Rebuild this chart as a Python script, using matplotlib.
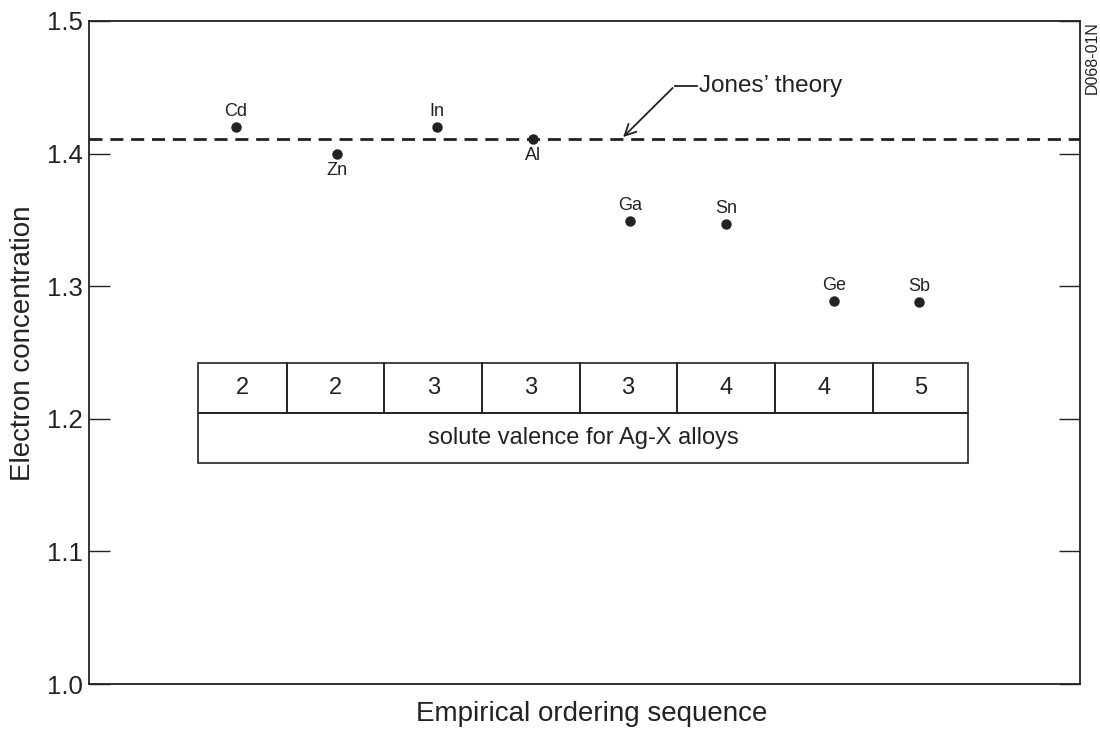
import matplotlib
matplotlib.use("Agg")
import matplotlib.pyplot as plt
from matplotlib.patches import Rectangle

plt.rcParams['font.family'] = ['Liberation Sans', 'DejaVu Sans']

elements = ["Cd", "Zn", "In", "Al", "Ga", "Sn", "Ge", "Sb"]
x_pos = [1.48, 2.50, 3.51, 4.48, 5.46, 6.43, 7.52, 8.38]
conc = [1.420, 1.400, 1.420, 1.411, 1.349, 1.347, 1.289, 1.288]
label_above = [True, False, True, False, True, True, True, True]
jones = 1.411
valences = ["2", "2", "3", "3", "3", "4", "4", "5"]
col_edges = [1.10, 2.00, 2.98, 3.97, 4.95, 5.93, 6.92, 7.91, 8.87]
table_caption = "solute valence for Ag-X alloys"
yticks = [1.0, 1.1, 1.2, 1.3, 1.4, 1.5]

ink = "#222222"
fig = plt.figure(figsize=(11, 7.29), dpi=100)
ax = fig.add_axes([89/1100, 1 - 684/729, (1080-89)/1100, (684-21)/729])
ax.set_xlim(0, 10)
ax.set_ylim(1.0, 1.5)

ax.axhline(jones, color=ink, lw=2, ls=(0, (4.7, 2.8)), zorder=2)
ax.plot(x_pos, conc, 'o', color=ink, ms=6.5, zorder=3)
for x, y, name, up in zip(x_pos, conc, elements, label_above):
    ax.annotate(name, (x, y), xytext=(0, 11 if up else -12), textcoords='offset points',
                ha='center', va='center', fontsize=13, color=ink)

# Jones' theory annotation
ax.annotate("", xy=(5.37, jones), xytext=(5.91, 1.451),
            arrowprops=dict(arrowstyle='->', color=ink, lw=1.3, mutation_scale=20))
ax.plot([5.91, 6.14], [1.451, 1.451], color=ink, lw=1.3)
ax.text(6.16, 1.451, "Jones\u2019 theory", ha='left', va='center', fontsize=17.5, color=ink)

# table
y_top, y_mid, y_bot = 1.242, 1.2045, 1.167
for i, v in enumerate(valences):
    ax.add_patch(Rectangle((col_edges[i], y_mid), col_edges[i+1]-col_edges[i], y_top-y_mid,
                           fill=False, ec=ink, lw=1.2))
    ax.text((col_edges[i]+col_edges[i+1])/2, (y_top+y_mid)/2, v, ha='center', va='center',
            fontsize=17, color=ink)
ax.add_patch(Rectangle((col_edges[0], y_bot), col_edges[-1]-col_edges[0], y_mid-y_bot,
                       fill=False, ec=ink, lw=1.2))
ax.text((col_edges[0]+col_edges[-1])/2, (y_mid+y_bot)/2, table_caption, ha='center', va='center',
        fontsize=17, color=ink)

ax.set_yticks(yticks)
ax.set_yticklabels([f"{t:.1f}" for t in yticks], fontsize=18.5, color=ink)
ax.set_xticks([])
ax.tick_params(axis='y', direction='in', length=15, width=1, color=ink, right=True, pad=4.5)
for s in ax.spines.values():
    s.set_color(ink)
    s.set_linewidth(1.3)
ax.set_ylabel("Electron concentration", fontsize=20, color=ink, labelpad=8)
ax.set_xlabel("Empirical ordering sequence", fontsize=20, color=ink, labelpad=12)
ax.yaxis.label.set_y(0.514)
ax.xaxis.label.set_x(0.507)

fig.text(1092/1100, 1 - 58/729, "D068-01N", rotation=90, ha='center', va='center', fontsize=11.5, color=ink)

fig.savefig("out.png", dpi=100)
